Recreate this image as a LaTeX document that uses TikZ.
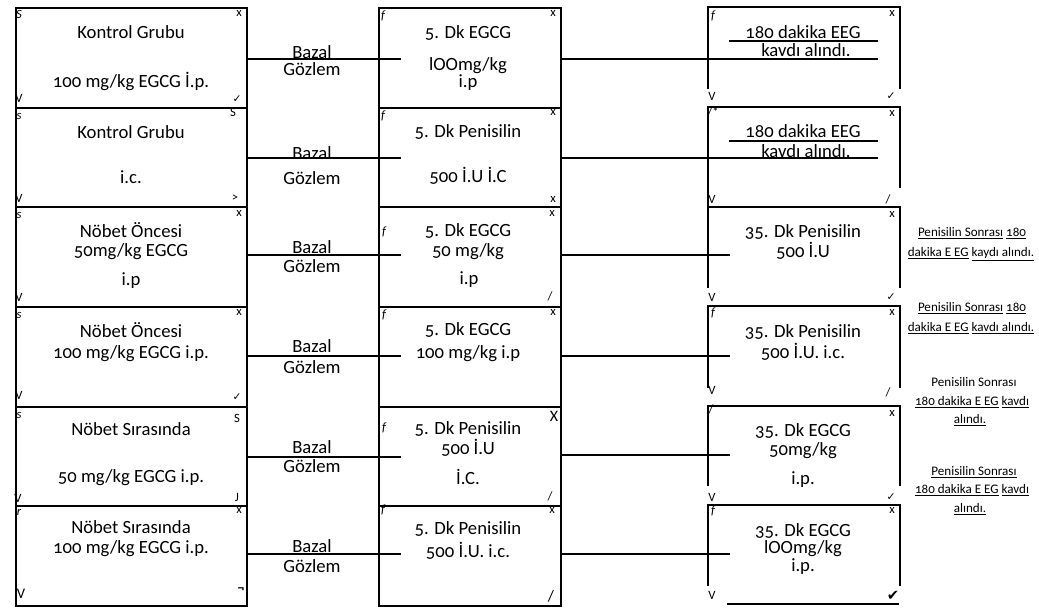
\documentclass[tikz,border=0pt]{standalone}
\usepackage{fontspec}
\usetikzlibrary{calc}
\setmainfont{Carlito}[Numbers=OldStyle]
\newfontfamily\symfont{DejaVu Sans}
\begin{document}
\begin{tikzpicture}[x=0.75pt,y=-0.75pt,
  box/.style={draw, line width=1.5pt, minimum height=74.75pt, inner sep=0pt, anchor=north west},
  lbox/.style={box, minimum width=173.25pt},
  mbox/.style={box, minimum width=136.5pt},
  rframe/.style={minimum width=143.25pt, inner sep=0pt, anchor=north west},
  frame/.style={line width=1.5pt},
  conn/.style={line width=1.4pt},
  txt/.style={inner sep=0pt, font=\fontsize{14}{16}\selectfont},
  txtm/.style={txt, align=center, font=\fontsize{14}{#1}\selectfont},
  side/.style={inner sep=0pt, font=\fontsize{9.8}{11}\selectfont},
  mk/.style={inner sep=0pt, font=\fontsize{9.5}{10}\selectfont},
  mki/.style={mk, font=\fontsize{9.5}{10}\selectfont\itshape},
  ck/.style={inner sep=0pt, font=\fontsize{8}{9}\symfont},
]
\useasboundingbox (0,0) rectangle (1039,611);
% ---------- left column ----------
\node[lbox] (L1) at (15,7) {};
\node[lbox] (L2) at (15,106.67) {};
\node[lbox] (L3) at (15,206.33) {};
\node[lbox] (L4) at (15,306) {};
\node[lbox] (L5) at (15,405.67) {};
\node[lbox] (L6) at (15,505.33) {};
% ---------- middle column ----------
\node[mbox] (M1) at (378,7) {};
\node[mbox] (M2) at (378,106.67) {};
\node[mbox] (M3) at (378,206.33) {};
\node[mbox] (M4) at (378,306) {};
\node[mbox] (M5) at (378,405.67) {};
\node[mbox] (M6) at (378,505.33) {};
% ---------- right column (open frames) ----------
\node[rframe, minimum height=60.75pt] (R1) at (708,7) {};
\node[rframe, minimum height=60pt] (R2) at (708,107) {};
\node[rframe, minimum height=60pt] (R3) at (708,207) {};
\node[rframe, minimum height=60.75pt] (R4) at (708,306) {};
\node[rframe, minimum height=59.25pt] (R5) at (708,406) {};
\node[rframe, minimum height=60pt] (R6) at (708,505) {};
\foreach \r in {R1,R3,R4,R5,R6}
  \draw[frame] (\r.south west) -- (\r.north west) -- (\r.north east) -- (\r.south east);
\draw[frame] ($(R2.south west)+(0,18)$) -- (R2.north west) -- (R2.north east) -- (R2.south east);
\draw[frame] ($(R6.south west)+(19,18)$) -- ($(R6.south east)+(-1,18)$);
% ---------- connectors ----------
\foreach \i/\y in {1/59,2/158,3/255,4/356,5/457,6/554}{
  \draw[conn] (L\i.east |- 0,\y) -- ($(M\i.west |- 0,\y)+(23,0)$);
}
\draw[conn] (M1.east |- 0,59) -- ($(R1.west |- 0,59)+(170,0)$);
\draw[conn] ($(R1.west |- 0,41)+(21,0)$) -- ($(R1.west |- 0,41)+(170,0)$);
\draw[conn] (M2.east |- 0,158) -- ($(R2.west |- 0,158)+(170,0)$);
\draw[conn] ($(R2.west |- 0,141)+(21,0)$) -- ($(R2.west |- 0,141)+(170,0)$);
\foreach \i/\y in {3/255,4/356,5/455,6/554}{
  \draw[conn] (M\i.east |- 0,\y) -- ($(R\i.west |- 0,\y)+(22,0)$);
}
% ---------- Bazal / Gozlem ----------
\node[txt] (b1) at (312,52) {Bazal};  \node[txt] (g1) at (312,69) {Gözlem};
\node[txt] (b2) at (312,153) {Bazal}; \node[txt] (g2) at (312,178) {Gözlem};
\node[txt] (b3) at (312,247) {Bazal}; \node[txt] (g3) at (312,266) {Gözlem};
\node[txt] (b4) at (312,346) {Bazal}; \node[txt] (g4) at (312,367) {Gözlem};
\node[txt] (b5) at (312,447) {Bazal}; \node[txt] (g5) at (312,466) {Gözlem};
\node[txt] (b6) at (312,546) {Bazal}; \node[txt] (g6) at (312,566) {Gözlem};
% ---------- left texts ----------
\node[txt] (l1a) at (131,32) {Kontrol Grubu};
\node[txt] (l1b) at (131,81) {100 mg/kg EGCG İ.p.};
\node[txt] (l2a) at (131,132) {Kontrol Grubu};
\node[txt] (l2b) at (131,177) {i.c.};
\node[txtm=14.25pt] (l3a) at (131,241) {Nöbet Öncesi\\50mg/kg EGCG};
\node[txt] (l3c) at (131,281) {i.p};
\node[txt] (l4a) at (131,330) {Nöbet Öncesi};
\node[txt] (l4b) at (131,354) {100 mg/kg EGCG i.p.};
\node[txt] (l5a) at (131,429) {Nöbet Sırasında};
\node[txt] (l5b) at (131,478) {50 mg/kg EGCG i.p.};
\node[txtm=15pt] (l6a) at (131,539) {Nöbet Sırasında\\100 mg/kg EGCG i.p.};
% ---------- middle texts ----------
\node[txt] (m1a) at (468,33) {5. Dk EGCG};
\node[txtm=11.5pt] (m1b) at (468,74) {lOOmg/kg\\i.p};
\node[txt] (m2a) at (468,132) {5. Dk Penisilin};
\node[txt] (m2b) at (468,176) {500 İ.U İ.C};
\node[txtm=15pt] (m3a) at (468,242) {5. Dk EGCG\\50 mg/kg};
\node[txt] (m3c) at (469,280) {i.p};
\node[txt] (m4a) at (468,330) {5. Dk EGCG};
\node[txt] (m4b) at (468,354) {100 mg/kg i.p};
\node[txtm=15.5pt] (m5a) at (468,439) {5. Dk Penisilin\\500 İ.U};
\node[txt] (m5c) at (468,477) {İ.C.};
\node[txt] (m6a) at (468,529) {5. Dk Penisilin};
\node[txt] (m6b) at (468,551) {500 İ.U. i.c.};
% ---------- right texts ----------
\node[txt] (r1a) at (803,32) {180 dakika EEG};
\node[txt] (r1b) at (806,50) {kavdı alındı.};
\node[txt] (r2a) at (803,131) {180 dakika EEG};
\node[txt] (r2b) at (806,151) {kavdı alındı.};
\node[txt] (r3a) at (803,232) {35. Dk Penisilin};
\node[txt] (r3b) at (803,251) {500 İ.U};
\node[txt] (r4a) at (803,332) {35. Dk Penisilin};
\node[txt] (r4b) at (803,352) {500 İ.U. i.c.};
\node[txtm=14.5pt] (r5a) at (803,441) {35. Dk EGCG\\50mg/kg};
\node[txt] (r5c) at (803,480) {i.p.};
\node[txtm=13pt] (r6a) at (803,549) {35. Dk EGCG\\lOOmg/kg\\i.p.};
% ---------- side notes ----------
\node[side] (s3a) at (972,233) {\underline{Penisilin Sonrası} \underline{180}};
\node[side] (s3b) at (971,254) {\underline{dakika E EG} \underline{kaydı alındı.}};
\node[side] (s4a) at (972,308) {\underline{Penisilin Sonrası} \underline{180}};
\node[side] (s4b) at (971,328) {\underline{dakika E EG} \underline{kavdı alındı.}};
\node[side] (s5a) at (974,382) {Penisilin Sonrası};
\node[side] (s5b) at (972,402) {\underline{180 dakika E EG} \underline{kavdı}};
\node[side] (s5c) at (970,420) {\underline{alındı.}};
\node[side] (s6a) at (974,472) {\underline{Penisilin Sonrası}};
\node[side] (s6b) at (972,490) {\underline{180 dakika E EG} \underline{kavdı}};
\node[side] (s6c) at (970,509) {\underline{alındı.}};
% ---------- corner marks: left ----------
\node[mki] (a1) at (19,14) {S};   \node[mk] (a2) at (239,13) {x};
\node[mk] (a3) at (19,98) {V};    \node[ck] (a4) at (237,99) {✓};
\node[mki] (a5) at (19,116) {s};  \node[mk] (a6) at (233,112) {S};
\node[mk] (a7) at (19,198) {V};   \node[mk] (a8) at (235,198) {>};
\node[mki] (a9) at (19,215) {s};  \node[mk] (a10) at (239,213) {x};
\node[mk] (a11) at (19,297) {V};
\node[mki] (a12) at (19,315) {s}; \node[mk] (a13) at (239,312) {x};
\node[mk] (a14) at (19,395) {V};  \node[ck] (a15) at (237,397) {✓};
\node[mki] (a16) at (19,415) {s}; \node[mk] (a17) at (237,418) {S};
\node[mk] (a18) at (18,498) {V};  \node[mk] (a19) at (237,497) {J};
\node[mki] (a20) at (19,512) {r}; \node[mk] (a21) at (239,510) {x};
\node[mk, font=\fontsize{11}{12}\selectfont] (a22) at (21,594) {V};
\node[mk, font=\bfseries\fontsize{10}{10}\selectfont] (a23) at (241,590) {¬};
% ---------- corner marks: middle ----------
\node[mki] (b7) at (383,16) {f};  \node[mk] (b8) at (553,13) {x};
\node[mki] (b9) at (383,116) {f}; \node[mk] (b10) at (553,112) {x};
\node[mk] (b11) at (553,199) {x};
\node[mki] (b12) at (384,232) {f}; \node[mk] (b13) at (552,213) {x};
\node[mk] (b14) at (550,296) {/};
\node[mki] (b15) at (384,315) {f}; \node[mk] (b16) at (553,312) {x};
\node[mki] (b17) at (384,428) {f};
\node[mk, font=\fontsize{12}{12}\selectfont] (b18) at (554,416) {X};
\node[mk] (b19) at (550,496) {/};
\node[mki] (b20) at (383,510) {f}; \node[mk] (b21) at (552,510) {x};
\node[mk, font=\fontsize{12}{12}\selectfont] (b22) at (551,596) {/};
% ---------- corner marks: right ----------
\node[mki] (c1) at (713,16) {f};  \node[mk] (c2) at (892,13) {x};
\node[mk] (c3) at (712,96) {V};   \node[ck] (c4) at (891,96) {✓};
\node[mk] (c5) at (713,112) {/*}; \node[mk] (c6) at (892,113) {x};
\node[mk] (c7) at (712,199) {V};  \node[mk] (c8) at (888,199) {/};
\node[mk] (c9) at (892,214) {x};
\node[mk] (c10) at (712,297) {V}; \node[ck] (c11) at (891,297) {✓};
\node[mki] (c12) at (713,313) {f}; \node[mk] (c13) at (892,312) {x};
\node[mk] (c14) at (712,390) {V}; \node[mk] (c15) at (888,392) {/};
\node[mk] (c16) at (711,409) {/}; \node[mk] (c17) at (892,413) {x};
\node[mk] (c18) at (712,497) {V}; \node[ck] (c19) at (891,497) {✓};
\node[mki] (c20) at (713,511) {f}; \node[mk] (c21) at (892,510) {x};
\node[mk] (c22) at (712,595) {V};
\node[ck, font=\fontsize{11}{12}\symfont] (c23) at (893,596) {✔};
\end{tikzpicture}
\end{document}
